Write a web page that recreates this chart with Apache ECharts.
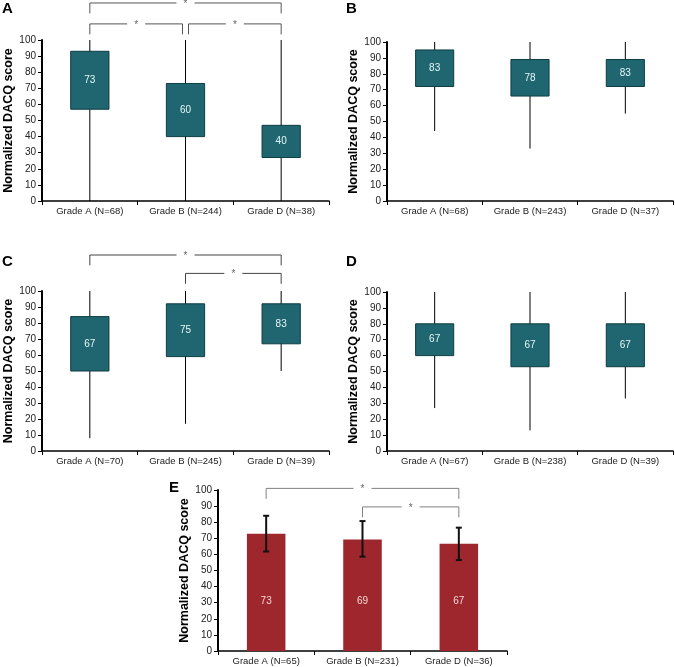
<!DOCTYPE html>
<html>
<head>
<meta charset="utf-8">
<script src="https://cdn.jsdelivr.net/npm/echarts@6/dist/echarts.min.js"></script>
<style>
  html, body { margin: 0; padding: 0; background: #fff; }
  #main { width: 675px; height: 667px; }
</style>
</head>
<body>
<div id="main"></div>
<script>
// panel A
const catsA = ['Grade A (N=68)', 'Grade B (N=244)', 'Grade D (N=38)'];
const lowA = [0, 0, 0];
const q1A = [57, 40, 27];
const q3A = [93, 73, 47];
const highA = [100, 100, 100];
const medA = [73, 60, 40];
const sigA = [[0, 2, 2], [0, 1, 1], [1, 2, 1]];

// panel B
const catsB = ['Grade A (N=68)', 'Grade B (N=243)', 'Grade D (N=37)'];
const lowB = [44, 33, 55];
const q1B = [72, 66, 72];
const q3B = [95, 89, 89];
const highB = [100, 100, 100];
const medB = [83, 78, 83];

// panel C
const catsC = ['Grade A (N=70)', 'Grade B (N=245)', 'Grade D (N=39)'];
const lowC = [8, 17, 50];
const q1C = [50, 59, 67];
const q3C = [84, 92, 92];
const highC = [100, 100, 100];
const medC = [67, 75, 83];
const sigC = [[0, 2, 2], [1, 2, 1]];

// panel D
const catsD = ['Grade A (N=67)', 'Grade B (N=238)', 'Grade D (N=39)'];
const lowD = [27, 13, 33];
const q1D = [60, 53, 53];
const q3D = [80, 80, 80];
const highD = [100, 100, 100];
const medD = [67, 67, 67];

// panel E
const catsE = ['Grade A (N=65)', 'Grade B (N=231)', 'Grade D (N=36)'];
const meanE = [72.9, 69.3, 66.6];
const errLowE = [61.8, 58.6, 56.5];
const errHighE = [84, 80.7, 76.6];
const sigE = [[0, 2, 2], [1, 2, 1]];

const FONT = 'Liberation Sans, Arial, sans-serif';
const BOX_FILL = '#1f6670';
const BOX_LINE = '#0e3d43';

let myChart = echarts.init(document.getElementById('main'));

// grids: [left, top, width, height]
const grids = [
	{ left: 42, top: 40, width: 287, height: 161 },
	{ left: 387, top: 42, width: 286, height: 159 },
	{ left: 42, top: 291, width: 287, height: 160 },
	{ left: 387, top: 292, width: 286, height: 159 },
	{ left: 218, top: 490, width: 289, height: 161 }
];
const allCats = [catsA, catsB, catsC, catsD, catsE];

function makeX(i) {
	return {
		type: 'category',
		gridIndex: i,
		data: allCats[i],
		axisLine: { lineStyle: { color: '#000', width: 1.5 } },
		axisTick: { show: true, length: 4, lineStyle: { color: '#000' } },
		axisLabel: { color: '#222', fontFamily: FONT, fontSize: 9.5, margin: 5 },
		splitLine: { show: false }
	};
}
function makeY(i) {
	return {
		type: 'value',
		gridIndex: i,
		min: 0,
		max: 100,
		interval: 10,
		name: 'Normalized DACQ score',
		nameLocation: 'middle',
		nameGap: 27,
		nameTextStyle: { fontFamily: FONT, fontWeight: 'bold', fontSize: 12.5, color: '#000' },
		axisLine: { show: true, lineStyle: { color: '#000', width: 2 } },
		axisTick: { show: true, length: 4, lineStyle: { color: '#000' } },
		axisLabel: { color: '#222', fontFamily: FONT, fontSize: 10, margin: 6 },
		splitLine: { show: false }
	};
}

function boxSeries(i, low, q1, q3, high, med) {
	const data = low.map((v, k) => [k, low[k], q1[k], q3[k], high[k], med[k]]);
	return {
		type: 'custom',
		xAxisIndex: i,
		yAxisIndex: i,
		silent: true,
		data: data,
		encode: { x: 0, y: [1, 2, 3, 4] },
		renderItem: function (params, api) {
			const x = api.value(0);
			const pLow = api.coord([x, api.value(1)]);
			const pHigh = api.coord([x, api.value(4)]);
			const pQ1 = api.coord([x, api.value(2)]);
			const pQ3 = api.coord([x, api.value(3)]);
			const w = api.size([1, 0])[0] * 0.4;
			return {
				type: 'group',
				children: [
					{ type: 'line', shape: { x1: pLow[0], y1: pLow[1], x2: pHigh[0], y2: pHigh[1] },
						style: { stroke: '#000', lineWidth: 1 } },
					{ type: 'rect', shape: { x: pQ3[0] - w / 2, y: pQ3[1], width: w, height: pQ1[1] - pQ3[1] },
						style: { fill: BOX_FILL, stroke: BOX_LINE, lineWidth: 1 } },
					{ type: 'text', x: pQ3[0], y: (pQ1[1] + pQ3[1]) / 2,
						style: { text: String(api.value(5)), fill: '#e6f6f6', font: '10px ' + FONT,
							align: 'center', verticalAlign: 'middle' } }
				]
			};
		}
	};
}

function bracketSeries(i, pairs, lines, color) {
	const drop = 6.5;
	return {
		type: 'custom',
		xAxisIndex: i,
		yAxisIndex: i,
		silent: true,
		clip: false,
		z: 5,
		data: pairs,
		renderItem: function (params, api) {
			const a = api.value(0), b = api.value(1), lvl = api.value(2);
			const yv = lines[lvl - 1];
			let p1 = api.coord([a, yv]);
			let p2 = api.coord([b, yv]);
			const e1 = api.coord([a, yv - drop]);
			let x1 = p1[0], x2 = p2[0];
			// nudge brackets that meet on the same category
			pairs.forEach(o => {
				if (o[2] === lvl && o[0] === b) x2 -= 3;
				if (o[2] === lvl && o[1] === a) x1 += 3;
			});
			const y = p1[1], ye = e1[1];
			const mid = (x1 + x2) / 2;
			const gap = 9;
			return {
				type: 'group',
				children: [
					{ type: 'polyline', shape: { points: [[x1, ye], [x1, y], [mid - gap, y]] },
						style: { stroke: color, lineWidth: 1, fill: null } },
					{ type: 'polyline', shape: { points: [[mid + gap, y], [x2, y], [x2, ye]] },
						style: { stroke: color, lineWidth: 1, fill: null } },
					{ type: 'text', x: mid, y: y + 1,
						style: { text: '*', fill: '#666', font: '10px ' + FONT, align: 'center', verticalAlign: 'middle' } }
				]
			};
		}
	};
}

function errorSeries(i, lo, hi) {
	return {
		type: 'custom',
		xAxisIndex: i,
		yAxisIndex: i,
		silent: true,
		z: 4,
		data: lo.map((v, k) => [k, lo[k], hi[k]]),
		encode: { x: 0, y: [1, 2] },
		renderItem: function (params, api) {
			const x = api.value(0);
			const pl = api.coord([x, api.value(1)]);
			const ph = api.coord([x, api.value(2)]);
			const c = 3;
			const st = { stroke: '#111', lineWidth: 2 };
			return {
				type: 'group',
				children: [
					{ type: 'line', shape: { x1: pl[0], y1: pl[1], x2: ph[0], y2: ph[1] }, style: st },
					{ type: 'line', shape: { x1: ph[0] - c, y1: ph[1], x2: ph[0] + c, y2: ph[1] }, style: st },
					{ type: 'line', shape: { x1: pl[0] - c, y1: pl[1], x2: pl[0] + c, y2: pl[1] }, style: st }
				]
			};
		}
	};
}

function letter(t, left, top) {
	return { text: t, left: left, top: top, padding: 0,
		textStyle: { fontFamily: FONT, fontWeight: 'bold', fontSize: 15, color: '#000' } };
}

let option = {
	animation: false,
	backgroundColor: '#fff',
	title: [
		letter('A', 2, 1),
		letter('B', 346, 1),
		letter('C', 2, 254),
		letter('D', 346, 254),
		letter('E', 169, 480)
	],
	grid: grids,
	xAxis: [0, 1, 2, 3, 4].map(makeX),
	yAxis: [0, 1, 2, 3, 4].map(makeY),
	series: [
		boxSeries(0, lowA, q1A, q3A, highA, medA),
		bracketSeries(0, sigA, [110, 123], '#555'),
		boxSeries(1, lowB, q1B, q3B, highB, medB),
		boxSeries(2, lowC, q1C, q3C, highC, medC),
		bracketSeries(2, sigC, [111, 122.5], '#444'),
		boxSeries(3, lowD, q1D, q3D, highD, medD),
		{
			type: 'bar',
			xAxisIndex: 4,
			yAxisIndex: 4,
			data: meanE,
			barWidth: '40%',
			itemStyle: { color: '#9d272d' },
			label: {
				show: true,
				position: 'insideBottom',
				distance: 45,
				color: '#f3d6d6',
				fontFamily: FONT,
				fontSize: 10,
				formatter: p => Math.round(p.value)
			}
		},
		errorSeries(4, errLowE, errHighE),
		bracketSeries(4, sigE, [89.5, 101], '#808080')
	]
};

myChart.setOption(option);
</script>
</body>
</html>
